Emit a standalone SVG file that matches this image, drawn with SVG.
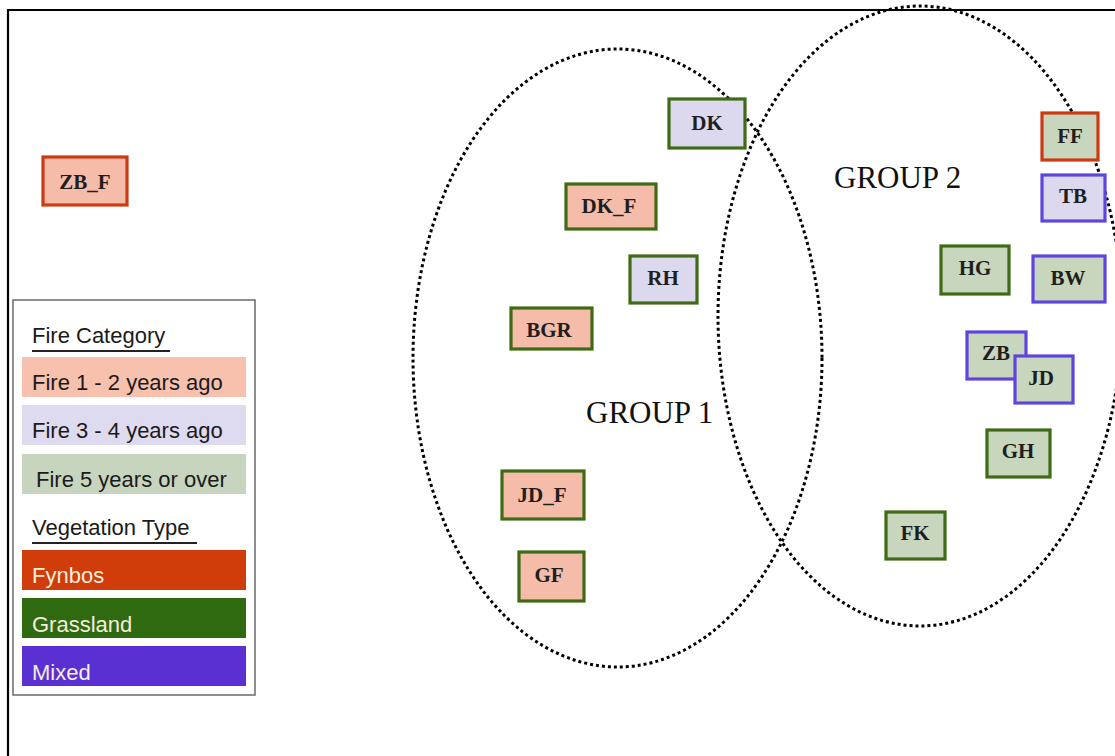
<svg xmlns="http://www.w3.org/2000/svg" width="1115" height="756" viewBox="0 0 1115 756">
  <style>
    .node rect { stroke-width: 3.2; }
    .node text { font-family: "Liberation Serif", "Times New Roman", serif; font-weight: bold; font-size: 21px; fill: #1e1e1e; text-anchor: middle; }
    .f12 { fill: #f5bcaa; }
    .f34 { fill: #dcd9ef; }
    .f5 { fill: #c8d6bd; }
    .sFyn { stroke: #cc3a12; }
    .sGra { stroke: #3e6b14; }
    .sMix { stroke: #5e45e0; }
    .group { fill: none; stroke: #000; stroke-width: 3; stroke-dasharray: 3 3; }
    .glabel { font-family: "Liberation Serif", "Times New Roman", serif; font-size: 31px; fill: #111; }
    .leg { font-family: "Liberation Sans", Arial, sans-serif; font-size: 22px; fill: #1a1a1a; }
    .legw { font-family: "Liberation Sans", Arial, sans-serif; font-size: 22px; fill: #f4eedc; }
  </style>

  <rect x="0" y="0" width="1115" height="756" fill="#fff"/>

  <!-- frame -->
  <path d="M8,756 V10 H1115" fill="none" stroke="#000" stroke-width="2.2"/>

  <!-- group outlines -->
  <g id="connectors">
    <ellipse class="group" cx="617.5" cy="358" rx="204.5" ry="309"/>
    <ellipse class="group" cx="920" cy="316" rx="202" ry="310"/>
  </g>

  <text class="glabel" x="586" y="423">GROUP 1</text>
  <text class="glabel" x="834" y="188">GROUP 2</text>

  <!-- sites -->
  <g id="ZB_F" class="node"><rect class="f12 sFyn" x="43" y="157" width="84" height="48"/><text x="85" y="189">ZB_F</text></g>
  <g id="DK" class="node"><rect class="f34 sGra" x="669" y="99" width="76" height="49"/><text x="707" y="130">DK</text></g>
  <g id="DK_F" class="node"><rect class="f12 sGra" x="566" y="184" width="90" height="45"/><text x="609" y="213">DK_F</text></g>
  <g id="RH" class="node"><rect class="f34 sGra" x="630" y="256" width="67" height="47"/><text x="663" y="285">RH</text></g>
  <g id="BGR" class="node"><rect class="f12 sGra" x="511" y="308" width="81" height="41"/><text x="549" y="337">BGR</text></g>
  <g id="JD_F" class="node"><rect class="f12 sGra" x="502" y="471" width="82" height="48"/><text x="542" y="502">JD_F</text></g>
  <g id="GF" class="node"><rect class="f12 sGra" x="519" y="552" width="65" height="49"/><text x="549" y="582">GF</text></g>
  <g id="FF" class="node"><rect class="f5 sFyn" x="1042" y="113" width="56" height="47"/><text x="1070" y="143">FF</text></g>
  <g id="TB" class="node"><rect class="f34 sMix" x="1042" y="175" width="63" height="46"/><text x="1073" y="203">TB</text></g>
  <g id="HG" class="node"><rect class="f5 sGra" x="941" y="246" width="68" height="48"/><text x="975" y="275">HG</text></g>
  <g id="BW" class="node"><rect class="f5 sMix" x="1033" y="256" width="72" height="46"/><text x="1068" y="285">BW</text></g>
  <g id="ZB" class="node"><rect class="f5 sMix" x="967" y="332" width="59" height="47"/><text x="996" y="360">ZB</text></g>
  <g id="JD" class="node"><rect class="f5 sMix" x="1015" y="356" width="58" height="47"/><text x="1041" y="385">JD</text></g>
  <g id="GH" class="node"><rect class="f5 sGra" x="987" y="430" width="63" height="47"/><text x="1018" y="458">GH</text></g>
  <g id="FK" class="node"><rect class="f5 sGra" x="886" y="512" width="59" height="47"/><text x="915" y="540">FK</text></g>

  <!-- legend -->
  <g id="legend">
    <rect x="13" y="300" width="242" height="395" fill="#fff" stroke="#6a6a6a" stroke-width="1.5"/>
    <text class="leg" x="32" y="343">Fire Category</text>
    <line x1="32" y1="351" x2="170" y2="351" stroke="#222" stroke-width="2"/>
    <rect x="22" y="357" width="224" height="40" fill="#f8c1ae"/>
    <text class="leg" x="32" y="390">Fire 1 - 2 years ago</text>
    <rect x="22" y="405" width="224" height="40" fill="#dedbf0"/>
    <text class="leg" x="32" y="438">Fire 3 - 4 years ago</text>
    <rect x="22" y="454" width="224" height="40" fill="#c8d5be"/>
    <text class="leg" x="36" y="487">Fire 5 years or over</text>
    <text class="leg" x="32" y="535">Vegetation Type</text>
    <line x1="32" y1="543" x2="197" y2="543" stroke="#222" stroke-width="2"/>
    <rect x="22" y="550" width="224" height="40" fill="#d13c0b"/>
    <text class="legw" x="32" y="583">Fynbos</text>
    <rect x="22" y="598" width="224" height="40" fill="#2f6a10"/>
    <text class="legw" x="32" y="632">Grassland</text>
    <rect x="22" y="646" width="224" height="40" fill="#5b30d2"/>
    <text class="legw" x="32" y="680">Mixed</text>
  </g>
</svg>
